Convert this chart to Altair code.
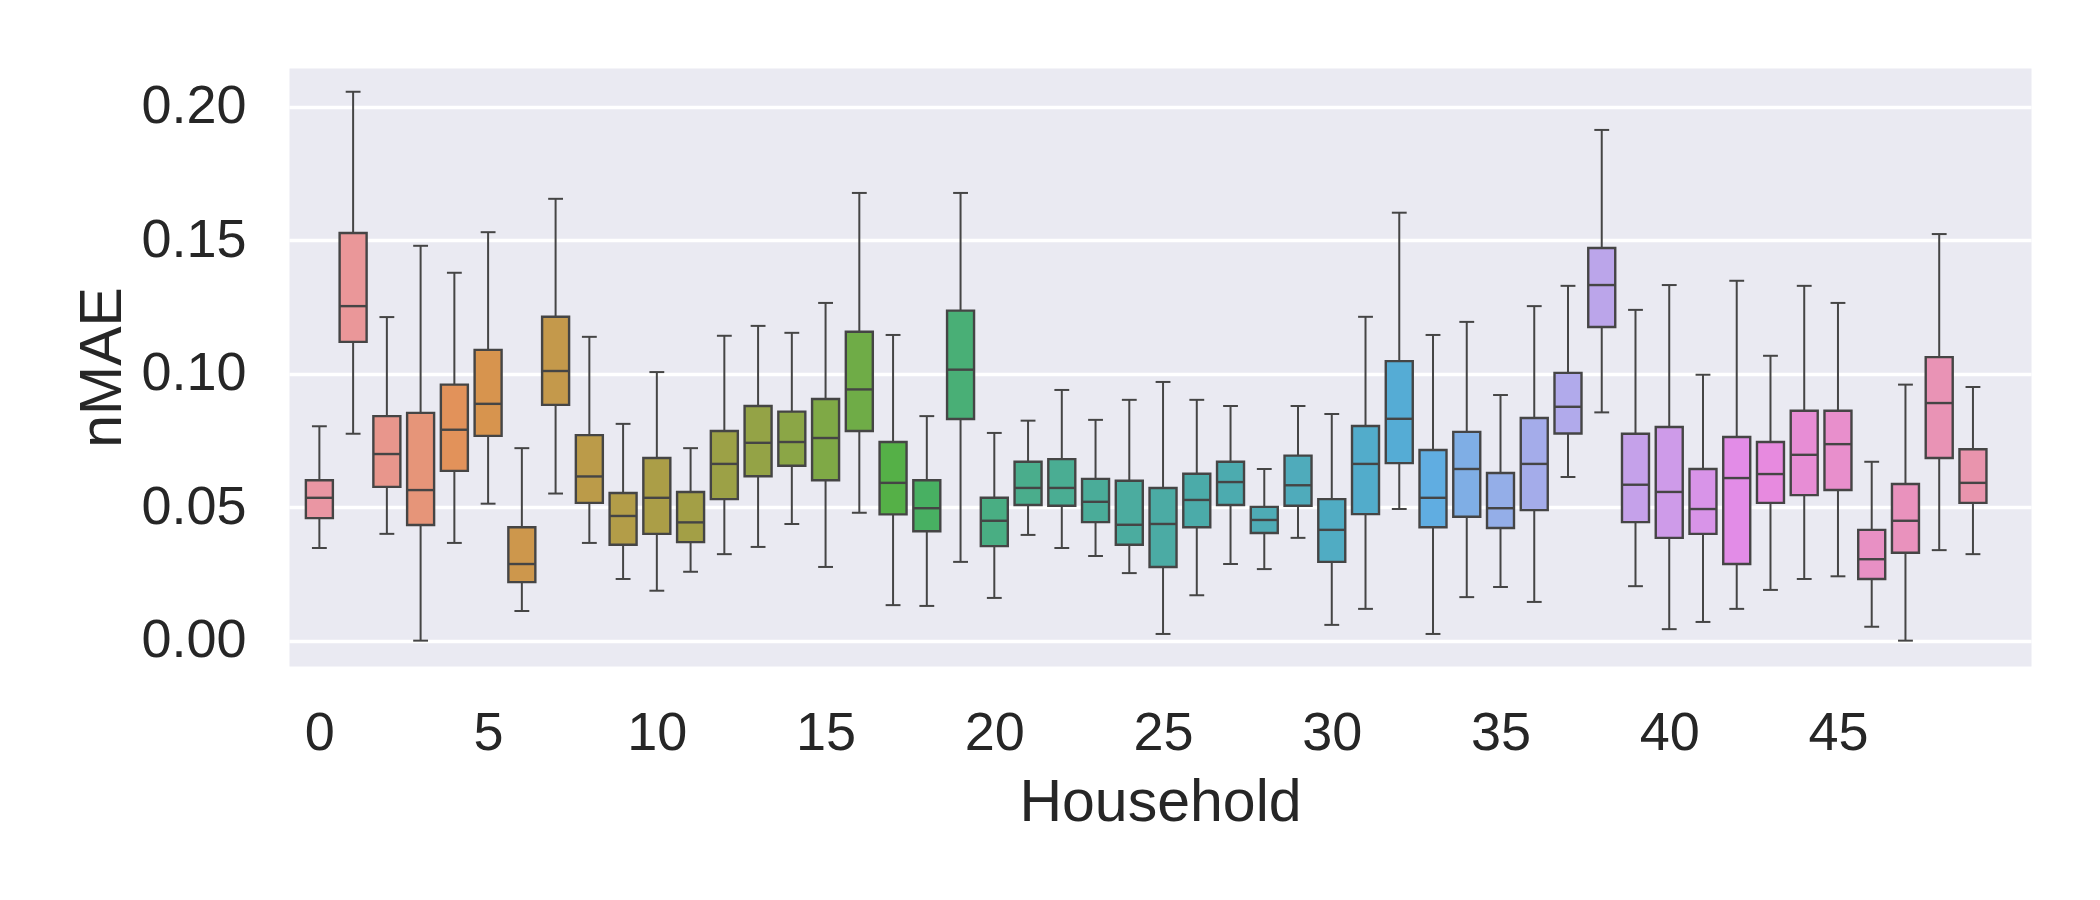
import math
import colorsys
import altair as alt
import pandas as pd

# ---- data ----
households = list(range(50))
whisker_low = [0.0347, 0.0775, 0.0400, 0.0000, 0.0366, 0.0513, 0.0111, 0.0551, 0.0366, 0.0231,
               0.0187, 0.0258, 0.0324, 0.0351, 0.0437, 0.0276, 0.0479, 0.0133, 0.0130, 0.0295,
               0.0160, 0.0396, 0.0347, 0.0317, 0.0253, 0.0025, 0.0170, 0.0287, 0.0268, 0.0385,
               0.0059, 0.0119, 0.0493, 0.0025, 0.0163, 0.0201, 0.0145, 0.0613, 0.0855, 0.0204,
               0.0043, 0.0070, 0.0119, 0.0190, 0.0231, 0.0241, 0.0052, 0.0000, 0.0339, 0.0324]
q1 = [0.0459, 0.1119, 0.0576, 0.0433, 0.0636, 0.0767, 0.0219, 0.0883, 0.0516, 0.0359,
      0.0400, 0.0369, 0.0530, 0.0616, 0.0655, 0.0601, 0.0785, 0.0473, 0.0410, 0.0830,
      0.0354, 0.0508, 0.0505, 0.0444, 0.0359, 0.0276, 0.0425, 0.0508, 0.0403, 0.0505,
      0.0295, 0.0474, 0.0665, 0.0425, 0.0464, 0.0422, 0.0489, 0.0776, 0.1175, 0.0444,
      0.0385, 0.0400, 0.0287, 0.0516, 0.0545, 0.0564, 0.0231, 0.0329, 0.0684, 0.0516]
median = [0.0535, 0.1253, 0.0699, 0.0564, 0.0790, 0.0887, 0.0287, 0.1010, 0.0615, 0.0467,
          0.0535, 0.0443, 0.0662, 0.0741, 0.0744, 0.0759, 0.0941, 0.0591, 0.0496, 0.1015,
          0.0449, 0.0572, 0.0572, 0.0520, 0.0434, 0.0437, 0.0527, 0.0594, 0.0452, 0.0582,
          0.0415, 0.0662, 0.0831, 0.0535, 0.0643, 0.0496, 0.0662, 0.0876, 0.1332, 0.0584,
          0.0557, 0.0493, 0.0609, 0.0624, 0.0696, 0.0736, 0.0305, 0.0449, 0.0890, 0.0591]
q3 = [0.0601, 0.1527, 0.0841, 0.0853, 0.0959, 0.1089, 0.0425, 0.1213, 0.0770, 0.0553,
      0.0684, 0.0557, 0.0785, 0.0879, 0.0858, 0.0905, 0.1157, 0.0744, 0.0601, 0.1236,
      0.0535, 0.0670, 0.0680, 0.0606, 0.0599, 0.0572, 0.0625, 0.0670, 0.0501, 0.0693,
      0.0530, 0.0804, 0.1047, 0.0714, 0.0782, 0.0628, 0.0834, 0.1003, 0.1471, 0.0775,
      0.0800, 0.0643, 0.0763, 0.0744, 0.0861, 0.0861, 0.0415, 0.0587, 0.1062, 0.0717]
whisker_high = [0.0803, 0.2056, 0.1212, 0.1479, 0.1378, 0.1530, 0.0721, 0.1655, 0.1138, 0.0812,
                0.1006, 0.0721, 0.1142, 0.1179, 0.1153, 0.1265, 0.1677, 0.1145, 0.0841, 0.1677,
                0.0778, 0.0824, 0.0939, 0.0827, 0.0902, 0.0969, 0.0902, 0.0879, 0.0643, 0.0879,
                0.0849, 0.1213, 0.1603, 0.1145, 0.1194, 0.0920, 0.1253, 0.1329, 0.1913, 0.1239,
                0.1332, 0.0996, 0.1348, 0.1067, 0.1329, 0.1265, 0.0670, 0.0959, 0.1523, 0.0950]
x_tick_values = [0, 5, 10, 15, 20, 25, 30, 35, 40, 45]
y_tick_values = [0.0, 0.05, 0.10, 0.15, 0.20]

# ---- seaborn-like husl palette (style only) ----
_M = [[3.2406, -1.5372, -0.4986], [-0.9689, 1.8758, 0.0415], [0.0557, -0.2040, 1.0570]]
_refU, _refV = 0.19784, 0.46834


def _max_chroma(L, H):
    hrad = math.radians(H)
    sinH, cosH = math.sin(hrad), math.cos(hrad)
    sub1 = (L + 16) ** 3 / 1560896.0
    sub2 = sub1 if sub1 > 0.008856 else (L / 903.3)
    result = float("inf")
    for m1, m2, m3 in _M:
        top = (0.99915 * m1 + 1.05122 * m2 + 1.14460 * m3) * sub2
        rbottom = 0.86330 * m3 - 0.17266 * m2
        lbottom = 0.12949 * m3 - 0.38848 * m1
        bottom = (rbottom * sinH + lbottom * cosH) * sub2
        for t in (0.0, 1.0):
            C = L * (top - 1.05122 * t) / (bottom + 0.17266 * sinH * t)
            if 0.0 < C < result:
                result = C
    return result


def _husl_to_rgb(H, S, L):
    C = _max_chroma(L, H) / 100.0 * S
    hrad = math.radians(H)
    U, V = math.cos(hrad) * C, math.sin(hrad) * C
    t = (L + 16) / 116.0
    varY = t ** 3 if t ** 3 > 0.008856 else (116 * t - 16) / 903.3
    varU = U / (13.0 * L) + _refU
    varV = V / (13.0 * L) + _refV
    Y = varY
    X = 0.0 - (9.0 * Y * varU) / ((varU - 4.0) * varV - varU * varV)
    Z = (9.0 * Y - (15.0 * varV * Y) - (varV * X)) / (3.0 * varV)
    out = []
    for row in _M:
        c = row[0] * X + row[1] * Y + row[2] * Z
        c = 12.92 * c if c <= 0.0031308 else 1.055 * c ** (1 / 2.4) - 0.055
        out.append(min(max(c, 0.0), 1.0))
    return out


def _palette(n):
    cols, lights = [], []
    for i in range(n):
        h = ((i / n) + 0.01) % 1 * 359
        r, g, b = _husl_to_rgb(h, 0.9 * 99, 0.7 * 99)
        hh, ll, ss = colorsys.rgb_to_hls(r, g, b)
        r, g, b = colorsys.hls_to_rgb(hh, ll, ss * 0.75)
        lights.append(colorsys.rgb_to_hls(r, g, b)[1])
        cols.append("#%02x%02x%02x" % (round(r * 255), round(g * 255), round(b * 255)))
    lum = min(lights) * 0.6
    gray = "#%02x%02x%02x" % ((round(lum * 255),) * 3)
    return cols, gray


colors, LINE = _palette(len(households))

df = pd.DataFrame({
    "Household": households,
    "low": whisker_low,
    "q1": q1,
    "median": median,
    "q3": q3,
    "high": whisker_high,
    "color": colors,
})

FONT = "Liberation Sans"
TXT = "#262626"

x_dom = [-0.9, 50.72]
y_dom = [-0.0095, 0.2145]

base = alt.Chart(df).transform_calculate(
    bx0="datum.Household - 0.4",
    bx1="datum.Household + 0.4",
    cx0="datum.Household - 0.22",
    cx1="datum.Household + 0.22",
)

x_axis = alt.Axis(values=x_tick_values, format="d", grid=False, domain=False, ticks=False,
                  labelFontSize=54, labelPadding=40, labelColor=TXT, labelFont=FONT,
                  title="Household", titleFontSize=59, titleFont=FONT, titleColor=TXT,
                  titleFontWeight="normal", titlePadding=13)
y_axis = alt.Axis(values=y_tick_values, format=".2f", grid=True, gridColor="white", gridWidth=3.3,
                  domain=False, ticks=False, labelFontSize=54, labelPadding=43, labelColor=TXT,
                  labelFont=FONT, title="nMAE", titleFontSize=59, titleFont=FONT, titleColor=TXT,
                  titleFontWeight="normal", titlePadding=8)

xs = alt.Scale(domain=x_dom, nice=False, zero=False)
ys = alt.Scale(domain=y_dom, nice=False, zero=False)

whisker = base.mark_rule(color=LINE, strokeWidth=2).encode(
    x=alt.X("Household:Q", scale=xs, axis=x_axis),
    y=alt.Y("low:Q", scale=ys, axis=y_axis),
    y2="high:Q",
)
cap_low = base.mark_rule(color=LINE, strokeWidth=2).encode(
    x=alt.X("cx0:Q", scale=xs), x2="cx1:Q", y=alt.Y("low:Q", scale=ys))
cap_high = base.mark_rule(color=LINE, strokeWidth=2).encode(
    x=alt.X("cx0:Q", scale=xs), x2="cx1:Q", y=alt.Y("high:Q", scale=ys))
box = base.mark_rect(stroke=LINE, strokeWidth=2.4).encode(
    x=alt.X("bx0:Q", scale=xs), x2="bx1:Q",
    y=alt.Y("q1:Q", scale=ys), y2="q3:Q",
    fill=alt.Fill("color:N", scale=None),
)
med = base.mark_rule(color=LINE, strokeWidth=2.4).encode(
    x=alt.X("bx0:Q", scale=xs), x2="bx1:Q", y=alt.Y("median:Q", scale=ys))

chart = alt.layer(whisker, cap_low, cap_high, box, med).properties(
    width=1742, height=598,
    autosize=alt.AutoSizeParams(type="none"),
    padding={"left": 281, "top": 60, "right": 61, "bottom": 226},
    background="white",
).configure_view(fill="#EAEAF2", stroke="transparent")

chart.save("out.html", embed_options={"renderer": "svg", "actions": False})
